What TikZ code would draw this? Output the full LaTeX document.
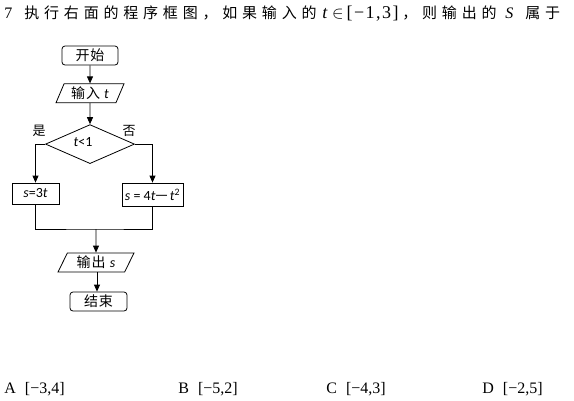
\documentclass[tikz,border=0pt]{standalone}
\usepackage{fontspec}
\setmainfont{Liberation Serif}
\newfontfamily\cjktitle[LetterSpace=32]{Noto Sans CJK SC}
\newfontfamily\cjkflow[LetterSpace=7]{Noto Sans CJK SC}
\newfontfamily\cjkplain{Noto Sans CJK SC}
\newfontfamily\spacedserif[LetterSpace=8]{Liberation Serif}
\newfontfamily\calib{Carlito}
\usetikzlibrary{shapes.geometric, arrows.meta, positioning}

\begin{document}
\begin{tikzpicture}[
  x=1pt, y=-1pt,
  line width=0.8pt,
  flowtext/.style={font=\cjkflow\fontsize{14}{15}\selectfont},
  term/.style={rectangle, rounded corners=3pt, draw, minimum width=56pt, minimum height=19pt, inner sep=0pt, flowtext},
  io/.style={trapezium, trapezium left angle=58, trapezium right angle=122, trapezium stretches body, draw, minimum width=68pt, minimum height=19pt, inner sep=0pt, flowtext},
  decision/.style={diamond, draw, minimum width=89pt, minimum height=39pt, inner sep=0pt},
  process/.style={rectangle, draw, minimum height=21pt, inner sep=0pt, font=\calib\fontsize{14}{15}\selectfont},
  arrow/.style={-{Triangle[length=7pt,width=6pt]}},
  question/.style={inner sep=0pt, anchor=base west, font=\cjktitle\fontsize{15}{16}\selectfont},
  latin/.style={inner sep=0pt, anchor=base west, font=\fontsize{16}{17}\selectfont}
]
\useasboundingbox (0,0) rectangle (574,400);

% question
\node (num) [latin] at (4,18) {7};
\node (q1) [question] at (24,18) {执行右面的程序框图，如果输入的};
\node (range) [latin, font=\spacedserif\fontsize{18}{19}\selectfont] at (322,18) {\textit{t}\,$\in$\,[−1,3]};
\node (q2) [question] at (402,18) {，则输出的};
\node (svar) [latin] at (505,18) {\textit{S}};
\node (q3) [question] at (525,18) {属于};

% flowchart
\node (start) [term] at (90,55.5) {开始};
\node (input) [io, below=18pt of start] {输入 {\calib\itshape t}};
\node (test) [decision, below=21pt of input] {};
\node (testlabel) [inner sep=0pt, font=\calib\fontsize{14}{15}\selectfont] at (83,142.5) {\textit{t}<1};
\node (yes) [inner sep=0pt, font=\cjkflow\fontsize{13}{14}\selectfont] at (39,131) {是};
\node (no) [inner sep=0pt, font=\cjkflow\fontsize{13}{14}\selectfont] at (129,131) {否};
\node (left) [process, minimum width=47pt] at (35.5,193.5) {\textit{s}=3\textit{t}};
\node (right) [process, minimum width=61pt, minimum height=23pt] at (152.5,194.5) {\textit{s} = 4\textit{t}{\cjkplain\fontsize{12}{12}\selectfont 一}\,\textit{t}\textsuperscript{2}};
\coordinate (join) at (96,229);
\node (output) [io, minimum width=76pt, trapezium left angle=54, trapezium right angle=126] at (96,262.5) {输出 {\calib\itshape s}};
\node (stop) [term, minimum width=57pt] at (98.5,301.5) {结束};

\draw [arrow] (start) -- (input);
\draw [arrow] (input) -- (test);
\draw [arrow] (test.west) -| (left.north);
\draw [arrow] (test.east) -| (right.north);
\draw (left.south) |- (join) -| (right.south);
\draw [arrow] (join) -- (output);
\draw [arrow] ([xshift=1pt]output.south) -- ([xshift=1pt]output.south |- stop.north);

% choices
\node (optA) [latin] at (4,393) {A\hspace{9pt}[−3,4]};
\node (optB) [latin] at (178,393) {B\hspace{9pt}[−5,2]};
\node (optC) [latin] at (326,393) {C\hspace{9pt}[−4,3]};
\node (optD) [latin] at (482,393) {D\hspace{9pt}[−2,5]};
\end{tikzpicture}
\end{document}
